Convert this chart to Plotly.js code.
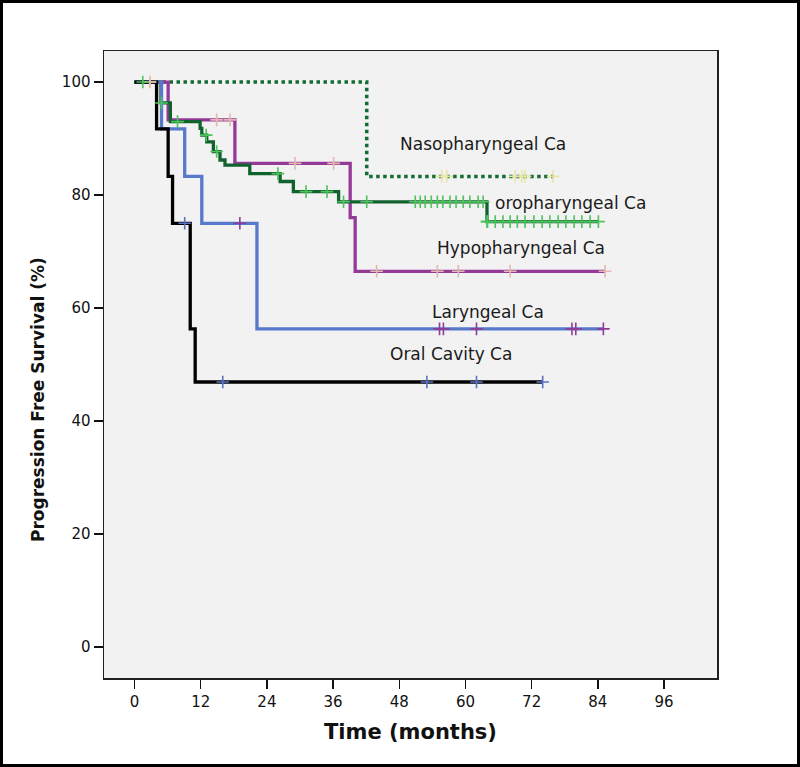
<!DOCTYPE html>
<html>
<head>
<meta charset="utf-8">
<script src="https://cdn.plot.ly/plotly-3.0.1.min.js"></script>
<style>html,body{margin:0;padding:0;background:#fff;}#chart{width:800px;height:767px;}</style>
</head>
<body>
<div id="chart"></div>
<script>
// ---- data (months, % progression free) ----
const groupNames = ["Oral Cavity Ca", "Laryngeal Ca", "Hypopharyngeal Ca", "oropharyngeal Ca", "Nasopharyngeal Ca"];

const oralTime = [0, 4.0, 6.1, 6.9, 10.1, 11.0, 74.0];
const oralSurv = [100, 91.7, 83.3, 75.0, 56.3, 46.9, 46.9];
const oralCensor = [9.1, 16.0, 53.0, 62.0, 74.0];

const larTime = [0, 4.9, 9.1, 12.2, 22.2, 85.0];
const larSurv = [100, 91.7, 83.3, 75.0, 56.3, 56.3];
const larCensor = [19.1, 55.3, 56.0, 62.0, 79.3, 80.0, 85.0];

const hypoTime = [0, 6.1, 18.2, 39.1, 40.0, 85.3];
const hypoSurv = [100, 93.3, 85.6, 76.0, 66.5, 66.5];
const hypoCensor = [2.8, 14.9, 17.3, 29.1, 36.1, 43.9, 54.9, 58.7, 68.1, 85.3];

const oroTime = [0, 4.8, 6.5, 11.9, 12.2, 13.1, 14.3, 15.5, 16.4, 20.9, 26.4, 28.8, 37.0, 63.9, 84.1];
const oroSurv = [100, 96.3, 93.0, 91.8, 90.6, 89.4, 87.7, 86.2, 85.3, 83.8, 82.4, 80.6, 78.8, 75.3, 75.3];
const oroCensor = [1.5, 4.9, 7.8, 13.0, 14.9, 26.0, 31.1, 34.9, 37.9, 42.1,
  50.9, 51.8, 52.7, 53.8, 54.9, 55.9, 57.2, 58.3, 59.6, 60.8, 62.3, 63.2, 63.9,
  64.0, 65.4, 66.8, 68.1, 69.4, 70.8, 72.4, 73.9, 75.3, 76.8, 78.2, 79.7, 81.1, 82.6, 84.1];

const nasoTime = [0, 42.1, 75.9];
const nasoSurv = [100, 83.3, 83.3];
const nasoCensor = [2.8, 55.7, 56.6, 69.0, 70.2, 70.8, 75.9];

const labelX = [57.4, 64.0, 70.1, 79.0, 63.2];
const labelY = [51.9, 59.3, 70.6, 78.6, 89.0];

const xTicks = [0, 12, 24, 36, 48, 60, 72, 84, 96];
const yTicks = [0, 20, 40, 60, 80, 100];

// ---- helpers ----
function stepAt(times, surv, t) {
  let v = surv[0];
  for (let i = 0; i < times.length; i++) { if (times[i] <= t) v = surv[i]; }
  return v;
}
function curve(times, surv, color, dash) {
  return {x: times, y: surv, mode: "lines", type: "scatter", hoverinfo: "skip", showlegend: false,
    line: {shape: "hv", color: color, width: dash ? 3.5 : 3.3, dash: dash || "solid"}};
}
function censors(times, surv, cens, color) {
  return {x: cens, y: cens.map(t => stepAt(times, surv, t)), mode: "markers", type: "scatter",
    hoverinfo: "skip", showlegend: false,
    marker: {symbol: "cross-thin", size: 9, color: color, line: {color: color, width: 1.6}}};
}

const data = [
  curve(nasoTime, nasoSurv, "#146b34", "dot"),
  curve(hypoTime, hypoSurv, "#933a98"),
  curve(oroTime, oroSurv, "#12622f"),
  curve(larTime, larSurv, "#5878cc"),
  curve(oralTime, oralSurv, "#000000"),
  censors(nasoTime, nasoSurv, nasoCensor, "#e7e6a2"),
  censors(hypoTime, hypoSurv, hypoCensor, "#e4b8ae"),
  censors(oroTime, oroSurv, oroCensor, "#4cc35c"),
  censors(larTime, larSurv, larCensor, "#8e3c98"),
  censors(oralTime, oralSurv, oralCensor, "#5a72c6")
];

const txt = {family: "DejaVu Sans, sans-serif", size: 17, color: "#1a1a1a"};
const labels = groupNames.map((n, i) => ({text: n, x: labelX[i], y: labelY[i], xref: "x", yref: "y",
  showarrow: false, xanchor: "center", yanchor: "middle", font: txt}));

labels.push({text: "Progression Free Survival (%)", xref: "paper", yref: "paper",
  x: (38 - 104) / 613, y: (678 - 400) / 627, xanchor: "center", yanchor: "middle",
  textangle: -90, showarrow: false,
  font: {family: "DejaVu Sans, sans-serif", size: 17, color: "#111", weight: "bold"}});

const layout = {
  width: 800, height: 767,
  margin: {l: 104, r: 83, t: 51, b: 89},
  paper_bgcolor: "#ffffff", plot_bgcolor: "#f2f2f2",
  showlegend: false,
  font: {family: "DejaVu Sans, sans-serif", size: 14, color: "#111"},
  xaxis: {range: [-5.53, 105.6], tickvals: xTicks, ticktext: xTicks.map(String),
    ticks: "outside", ticklen: 9, tickwidth: 1.5, tickcolor: "#111",
    showgrid: false, zeroline: false, showline: true, mirror: true, linecolor: "#222", linewidth: 1.5,
    tickfont: {size: 15, color: "#111"},
    title: {text: "Time (months)", standoff: 15, font: {size: 21, color: "#111", weight: "bold"}}},
  yaxis: {range: [-5.5, 105.5], tickvals: yTicks, ticktext: yTicks.map(String),
    ticks: "outside", ticklen: 9, tickwidth: 1.5, tickcolor: "#111",
    showgrid: false, zeroline: false, showline: true, mirror: true, linecolor: "#222", linewidth: 1.5,
    tickfont: {size: 15, color: "#111"}},
  annotations: labels,
  shapes: [{type: "rect", xref: "paper", yref: "paper",
    x0: (1.5 - 104) / 613, x1: (798.5 - 104) / 613,
    y0: (678 - 765.5) / 627, y1: (678 - 1.5) / 627,
    line: {color: "#000", width: 3}, fillcolor: "rgba(0,0,0,0)"}]
};

Plotly.newPlot("chart", data, layout, {displayModeBar: false, staticPlot: true});
</script>
</body>
</html>
